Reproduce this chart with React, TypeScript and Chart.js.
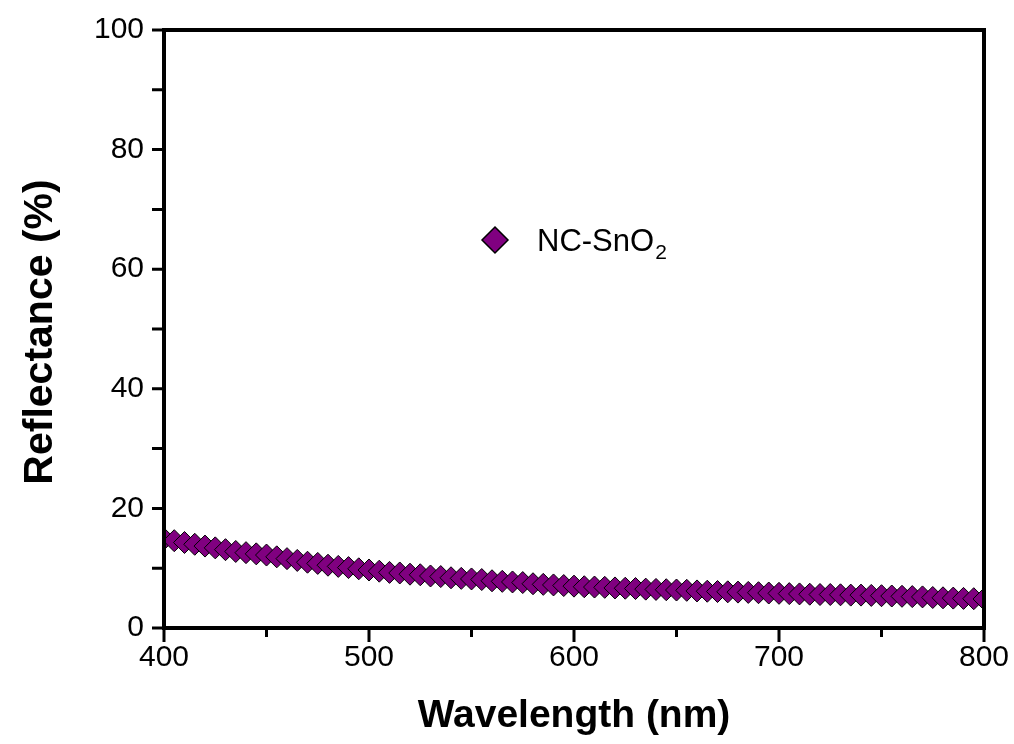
import React, { useEffect, useRef } from "react";
import { Chart, registerables } from "chart.js";

Chart.register(...registerables);

const wavelengths = [
  400, 405, 410, 415, 420, 425, 430, 435, 440, 445,
  450, 455, 460, 465, 470, 475, 480, 485, 490, 495,
  500, 505, 510, 515, 520, 525, 530, 535, 540, 545,
  550, 555, 560, 565, 570, 575, 580, 585, 590, 595,
  600, 605, 610, 615, 620, 625, 630, 635, 640, 645,
  650, 655, 660, 665, 670, 675, 680, 685, 690, 695,
  700, 705, 710, 715, 720, 725, 730, 735, 740, 745,
  750, 755, 760, 765, 770, 775, 780, 785, 790, 795,
  800,
];

const reflectance = [
  14.9, 14.6, 14.3, 14.0, 13.7, 13.4, 13.1, 12.8, 12.6, 12.4,
  12.2, 11.9, 11.6, 11.3, 11.0, 10.8, 10.5, 10.3, 10.1, 9.9,
  9.7, 9.5, 9.3, 9.2, 9.0, 8.9, 8.7, 8.6, 8.4, 8.3,
  8.2, 8.1, 7.9, 7.8, 7.7, 7.6, 7.4, 7.3, 7.2, 7.1,
  7.0, 6.9, 6.85, 6.8, 6.7, 6.65, 6.6, 6.5, 6.45, 6.4,
  6.35, 6.3, 6.2, 6.15, 6.1, 6.05, 6.0, 5.95, 5.9, 5.85,
  5.8, 5.75, 5.7, 5.65, 5.6, 5.6, 5.55, 5.5, 5.5, 5.45,
  5.4, 5.35, 5.3, 5.25, 5.2, 5.1, 5.05, 5.0, 4.95, 4.9,
  4.85,
];

const xTickValues = [400, 500, 600, 700, 800];
const yTickValues = [0, 20, 40, 60, 80, 100];
const seriesName = "NC-SnO";
const seriesSub = "2";
const xTitle = "Wavelength (nm)";
const yTitle = "Reflectance (%)";

const FONT = '"Liberation Sans", Arial, Helvetica, sans-serif';
const PURPLE = "#800080";

const framePlugin = {
  id: "frame",
  afterDatasetsDraw(chart: any) {
    const { ctx, chartArea, scales } = chart;
    const { left, right, top, bottom } = chartArea;
    const xs = scales.x;
    const ys = scales.y;
    ctx.save();
    ctx.strokeStyle = "#000";
    ctx.lineCap = "butt";
    ctx.lineWidth = 3;
    ctx.beginPath();
    for (let i = 0; i < xTickValues.length; i++) {
      const px = xs.getPixelForValue(xTickValues[i]);
      ctx.moveTo(px, bottom);
      ctx.lineTo(px, bottom + 14);
      if (i < xTickValues.length - 1) {
        const mx = xs.getPixelForValue((xTickValues[i] + xTickValues[i + 1]) / 2);
        ctx.moveTo(mx, bottom);
        ctx.lineTo(mx, bottom + 9);
      }
    }
    for (let i = 0; i < yTickValues.length; i++) {
      const py = ys.getPixelForValue(yTickValues[i]);
      ctx.moveTo(left, py);
      ctx.lineTo(left - 12, py);
      if (i < yTickValues.length - 1) {
        const my = ys.getPixelForValue((yTickValues[i] + yTickValues[i + 1]) / 2);
        ctx.moveTo(left, my);
        ctx.lineTo(left - 12, my);
      }
    }
    ctx.stroke();
    ctx.lineWidth = 4;
    ctx.strokeRect(left, top, right - left, bottom - top);
    ctx.restore();
  },
  afterDraw(chart: any) {
    const { ctx, chartArea } = chart;
    const { left, right, top, bottom } = chartArea;
    ctx.save();
    ctx.fillStyle = "#000";
    ctx.font = `bold 39px ${FONT}`;
    ctx.textAlign = "center";
    ctx.textBaseline = "alphabetic";
    ctx.fillText(xTitle, (left + right) / 2, 727);
    ctx.save();
    ctx.translate(52, (top + bottom) / 2 + 3);
    ctx.rotate(-Math.PI / 2);
    ctx.font = `bold 41px ${FONT}`;
    ctx.textAlign = "center";
    ctx.fillText(yTitle, 0, 0);
    ctx.restore();
    // legend
    const lx = 495;
    const ly = 240;
    const r = 13;
    ctx.beginPath();
    ctx.moveTo(lx, ly - r);
    ctx.lineTo(lx + r, ly);
    ctx.lineTo(lx, ly + r);
    ctx.lineTo(lx - r, ly);
    ctx.closePath();
    ctx.fillStyle = PURPLE;
    ctx.fill();
    ctx.lineWidth = 1.5;
    ctx.strokeStyle = "#000";
    ctx.stroke();
    ctx.fillStyle = "#000";
    ctx.textAlign = "left";
    ctx.font = `31px ${FONT}`;
    ctx.fillText(seriesName, 537, 251);
    const w = ctx.measureText(seriesName).width;
    ctx.font = `21px ${FONT}`;
    ctx.fillText(seriesSub, 537 + w + 1, 259);
    ctx.restore();
  },
};

export default function App() {
  const canvasRef = useRef<HTMLCanvasElement | null>(null);

  useEffect(() => {
    const canvas = canvasRef.current;
    if (!canvas) return;
    const points = wavelengths.map((x, i) => ({ x, y: reflectance[i] }));
    const chart = new Chart(canvas, {
      type: "scatter",
      data: {
        datasets: [
          {
            label: seriesName + seriesSub,
            data: points,
            pointStyle: "rectRot",
            pointRadius: 11,
            pointHoverRadius: 11,
            backgroundColor: PURPLE,
            borderColor: "#000",
            borderWidth: 1,
            showLine: false,
          },
        ],
      },
      options: {
        responsive: false,
        animation: false,
        devicePixelRatio: 1,
        layout: { padding: { left: 0, right: 30, top: 30, bottom: 0 } },
        plugins: {
          legend: { display: false },
          tooltip: { enabled: false },
          title: { display: false },
        },
        scales: {
          x: {
            type: "linear",
            min: 400,
            max: 800,
            afterFit: (s: any) => {
              s.height = 116;
            },
            afterBuildTicks: (s: any) => {
              s.ticks = xTickValues.map((v) => ({ value: v }));
            },
            grid: {
              display: true,
              drawOnChartArea: false,
              drawTicks: true,
              tickLength: 10,
              color: "rgba(0,0,0,0)",
            },
            border: { display: false },
            ticks: {
              padding: 2,
              color: "#000",
              font: { family: FONT, size: 30 },
              maxRotation: 0,
              autoSkip: false,
              callback: (v: any) => String(v),
            },
          },
          y: {
            type: "linear",
            min: 0,
            max: 100,
            afterFit: (s: any) => {
              s.width = 164;
            },
            afterBuildTicks: (s: any) => {
              s.ticks = yTickValues.map((v) => ({ value: v }));
            },
            grid: {
              display: true,
              drawOnChartArea: false,
              drawTicks: true,
              tickLength: 10,
              color: "rgba(0,0,0,0)",
            },
            border: { display: false },
            ticks: {
              padding: 10,
              color: "#000",
              font: { family: FONT, size: 30 },
              autoSkip: false,
              callback: (v: any) => String(v),
            },
          },
        },
      },
      plugins: [framePlugin],
    });
    return () => chart.destroy();
  }, []);

  return (
    <div style={{ position: "absolute", left: 0, top: 0, width: 1014, height: 744, background: "#fff" }}>
      <canvas ref={canvasRef} width={1014} height={744} />
    </div>
  );
}
